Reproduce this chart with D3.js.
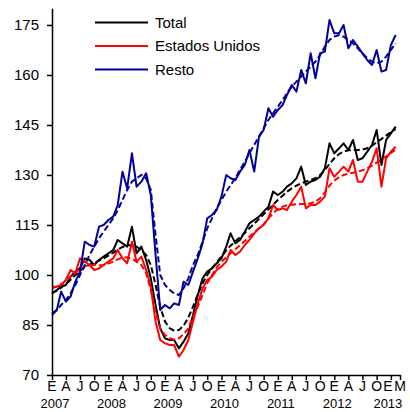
<!DOCTYPE html>
<html>
<head>
<meta charset="utf-8">
<script src="https://cdn.jsdelivr.net/npm/d3@7"></script>
<style>
  body { margin: 0; background: #fff; }
  svg { display: block; font-family: "Liberation Sans", Arial, sans-serif; }
</style>
</head>
<body>
<svg id="chart" width="410" height="412"></svg>
<script>
// monthly index, Jan 2007 .. Feb 2013
var months = d3.timeMonth.range(new Date(2007, 0, 1), new Date(2013, 2, 1))
var monthLetters = ["E", "F", "M", "A", "M", "J", "J", "A", "S", "O", "N", "D"]
var yTicks = [70, 85, 100, 115, 130, 145, 160, 175]

var total = [94.5, 95.5, 96.5, 97, 99.5, 101, 102, 105, 104.5, 103, 104.5, 105.5,
  106.5, 107.5, 110.5, 109.5, 108.5, 114.5, 106.5, 108.5, 104.5, 99, 91, 84,
  81, 80.5, 80.5, 78, 80, 82.5, 88, 94, 99, 101, 102, 103.5,
  105, 108.5, 112.5, 109.5, 110.5, 113, 115.5, 116.5, 117.5, 119, 120.5, 125,
  124, 125, 126.5, 127.5, 129, 132.5, 127, 128, 128.5, 129.5, 132, 139.5,
  136.5, 138, 139.5, 137.5, 140.5, 134.5, 135, 137, 139, 143.5, 133, 140.5,
  142.5, 144.5]
var totalTrend = [94.5, 95.3, 96.2, 97.3, 98.6, 100, 101.2, 102.3, 103.1, 103.7, 104.3, 105,
  105.8, 106.7, 107.6, 108.4, 108.9, 109, 108.5, 107.5, 106, 103, 97, 90.5,
  86, 84, 83.3, 83.5, 84.8, 87.2, 90.5, 94.2, 97.5, 100, 102, 103.8,
  105.6, 107.3, 108.8, 110.1, 111.3, 112.6, 114, 115.4, 116.8, 118.2, 119.7, 121.1,
  122.5, 123.8, 125, 126, 126.8, 127.5, 128, 128.5, 129, 130, 131.5, 133.3,
  135, 136.3, 137, 137.4, 137.5, 137.5, 137.6, 138, 138.8, 139.8, 140.8, 141.8,
  142.8, 143.8]
var usa = [96.5, 96.5, 97, 98.5, 101.5, 100.5, 105, 104, 103, 101.5, 102, 103,
  104, 105, 107.5, 105, 103.5, 110, 104, 105.5, 101.5, 96.5, 86, 80.5,
  79.5, 79, 79, 75.5, 77.5, 80.5, 86, 91.5, 96, 98.5, 99.5, 101.5,
  102.5, 104, 107.5, 106, 107, 109, 110.5, 112.5, 114, 115, 117, 121,
  119.5, 120, 119.5, 122, 124, 126.5, 120, 121, 121, 122, 123.5, 132,
  129.5, 131, 132.5, 131, 134.5, 128, 128, 131, 134, 138, 126.5, 135,
  137, 138.5]
var usaTrend = [96, 96.5, 97.3, 98.3, 99.5, 100.7, 101.8, 102.6, 103, 103, 102.9, 103,
  103.4, 104, 104.7, 105.2, 105.3, 104.9, 104, 103, 100.5, 95.5, 89, 84,
  82, 81, 80.6, 81, 82.2, 84, 87.5, 90.5, 94, 97.5, 100, 102.3,
  104, 105.3, 106.5, 107.7, 108.9, 110.2, 111.5, 112.8, 114, 115.2, 117, 118.5,
  119.8, 120.5, 120.9, 121.1, 121.2, 121.3, 121.3, 121.5, 122, 123, 124.8, 126.8,
  128.3, 129.4, 130, 130.4, 130.7, 131, 131.4, 132, 132.8, 133.7, 134.6, 135.6,
  136.6, 137.6]
var rest = [88, 89.5, 95, 92, 93.5, 98, 101, 110, 109, 108.5, 114.5, 115,
  116.5, 117.5, 121, 131, 126, 136.5, 126.5, 128, 130.5, 124, 106, 89.5,
  91, 90, 91.5, 91, 98, 97, 101, 105, 109.5, 117, 118, 119.5,
  123.5, 130, 129, 128.5, 131, 133, 137.5, 131, 141.5, 143.5, 150, 147.5,
  149.5, 151, 154, 157, 155, 161.5, 157.5, 166.5, 159, 166.5, 167, 176.5,
  172.5, 172.5, 175, 168, 170.5, 168.5, 166.5, 164.5, 163, 167.5, 161, 161.5,
  169, 172]
var restTrend = [88.5, 89.5, 91, 92.5, 94.5, 97, 100, 103, 106, 108.5, 111, 113,
  115, 117, 119.5, 122.5, 125.5, 128, 129, 130, 129, 125.5, 112, 100,
  97, 95.5, 94.5, 94, 96, 99, 103, 106, 110, 114, 117, 120,
  122.5, 125, 127, 129, 131.5, 134, 136.5, 139, 141.5, 144, 146.5, 148.5,
  150.5, 152.5, 154.5, 156.5, 158, 159.5, 161, 162.5, 164, 166, 168.5, 170.5,
  171.5, 172, 171.5, 170.5, 169.5, 168, 166.5, 165, 164, 163.5, 164, 165.5,
  167.5, 169.5]

var series = [
  {name: "Total", color: "#000000", values: total, trend: totalTrend},
  {name: "Estados Unidos", color: "#ff0000", values: usa, trend: usaTrend},
  {name: "Resto", color: "#000099", values: rest, trend: restTrend}
]

var svg = d3.select("#chart")

var x = d3.scaleTime()
  .domain([new Date(2007, 0, 1), new Date(2013, 2, 1)])
  .range([52, 400])
var y = d3.scaleLinear()
  .domain([70, 180])
  .range([375, 8.3])

// quarterly ticks plus the closing "M"
var tickDates = d3.timeMonth.every(3).range(new Date(2007, 0, 1), new Date(2013, 1, 1))
tickDates.push(new Date(2013, 2, 1))

var line = d3.line()
  .x((d, i) => x(months[i]))
  .y(d => y(d))

var lineGroup = svg.append("g")
series.forEach(function(s) {
  lineGroup.append("path")
    .attr("d", line(s.trend))
    .attr("fill", "none")
    .attr("stroke", s.color)
    .attr("stroke-width", 2)
    .attr("stroke-dasharray", "6,3")
  lineGroup.append("path")
    .attr("d", line(s.values))
    .attr("fill", "none")
    .attr("stroke", s.color)
    .attr("stroke-width", 2)
    .attr("stroke-linejoin", "round")
})

// y axis
var yAxis = svg.append("g")
  .attr("transform", "translate(52,0)")
  .call(d3.axisLeft(y).tickValues(yTicks).tickSize(5).tickSizeOuter(0).tickPadding(8))
yAxis.select(".domain").attr("stroke-width", 1.5)
yAxis.selectAll(".tick line").attr("stroke-width", 1.5)
yAxis.selectAll("text")
  .attr("font-size", 15)
  .attr("font-family", "Liberation Sans, Arial, sans-serif")
  .attr("fill", "#000")

// x axis
var xAxis = svg.append("g")
  .attr("transform", "translate(0,375)")
  .call(d3.axisBottom(x).tickValues(tickDates).tickSize(5).tickSizeOuter(0).tickFormat(""))
xAxis.select(".domain").attr("stroke-width", 1.5)
xAxis.selectAll(".tick line").attr("stroke-width", 1.5)

var xLab = svg.append("g")
xLab.selectAll("text.month")
  .data(tickDates)
  .join("text")
  .attr("class", "month")
  .attr("x", (d, i) => x(d) - (i == tickDates.length - 2 ? 3 : 0))
  .attr("y", 391)
  .attr("text-anchor", "middle")
  .attr("font-size", 14)
  .text(d => monthLetters[d.getMonth()])
xLab.selectAll("text.year")
  .data(tickDates.filter(d => d.getMonth() == 0))
  .join("text")
  .attr("class", "year")
  .attr("x", (d, i) => x(d) + 3 - (i == 6 ? 6 : 0))
  .attr("y", 408)
  .attr("text-anchor", "middle")
  .attr("font-size", 13)
  .text(d => d.getFullYear())

// legend
var legend = svg.append("g")
  .selectAll("g")
  .data(series)
  .join("g")
  .attr("transform", (d, i) => "translate(95," + (22.5 + i * 23.5) + ")")
legend.append("line")
  .attr("x1", 0).attr("x2", 53)
  .attr("stroke", d => d.color)
  .attr("stroke-width", 2)
legend.append("text")
  .attr("x", 60)
  .attr("y", 5)
  .attr("font-size", 15)
  .text(d => d.name)
</script>
</body>
</html>
